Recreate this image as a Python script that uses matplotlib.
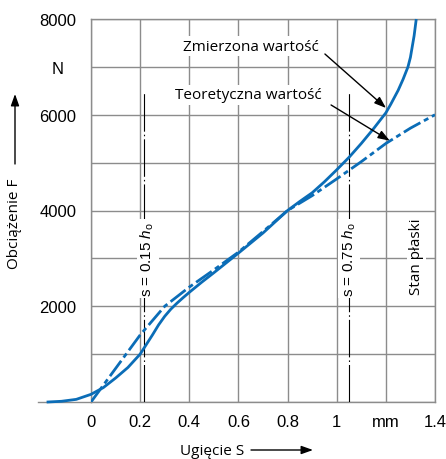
import numpy as np
import matplotlib
matplotlib.use("Agg")
import matplotlib.pyplot as plt

plt.rcParams['font.family'] = ['Liberation Sans', 'DejaVu Sans']
plt.rcParams['mathtext.fontset'] = 'custom'
plt.rcParams['mathtext.rm'] = 'Liberation Sans'
plt.rcParams['mathtext.it'] = 'Liberation Sans:italic'
plt.rcParams['lines.scale_dashes'] = False

# measured (solid) curve: deflection s [mm], load F [N]
s_measured = [-0.175, -0.12, -0.06, 0.0, 0.05, 0.1, 0.15, 0.2, 0.225, 0.25, 0.275,
              0.3, 0.325, 0.35, 0.375, 0.4, 0.45, 0.5, 0.6, 0.7, 0.8, 0.85, 0.9,
              0.95, 1.0, 1.05, 1.1, 1.15, 1.2, 1.22, 1.25, 1.27, 1.29, 1.30,
              1.315, 1.323]
F_measured = [0, 15, 55, 160, 300, 500, 720, 1000, 1200, 1400, 1610,
              1790, 1940, 2065, 2180, 2290, 2500, 2700, 3110, 3530, 4000, 4190, 4370,
              4600, 4850, 5110, 5400, 5710, 6040, 6220, 6510, 6740, 7000, 7200,
              7650, 7970]

# theoretical (dash-dot) curve
s_theory = [0.0, 0.1, 0.2, 0.3, 0.4, 0.5, 0.6, 0.7, 0.8, 0.9, 1.0, 1.1, 1.2, 1.3, 1.4]
F_theory = [0, 700, 1400, 2000, 2400, 2760, 3130, 3560, 4000, 4310, 4660, 5020, 5400, 5720, 6000]

x_ticks = [0, 0.2, 0.4, 0.6, 0.8, 1.0, 1.2, 1.4]
x_labels = ['0', '0.2', '0.4', '0.6', '0.8', '1', 'mm', '1.4']
y_ticks = [0, 1000, 2000, 3000, 4000, 5000, 6000, 7000, 8000]
y_labels = ['', '', '2000', '', '4000', '', '6000', 'N', '8000']

# reference deflections s = 0.15 h0 and s = 0.75 h0
s_015 = 0.216
s_075 = 1.052
F_ref_top = 6450

blue = '#0b6db7'
grey = '#8c8c8c'
label_font = ['Open Sans', 'DejaVu Sans']

fig = plt.figure(figsize=(4.46, 4.60), dpi=100)
ax = fig.add_axes([91 / 446, 57 / 460, 344 / 446, 383 / 460])
ax.set_xlim(0, 1.4)
ax.set_ylim(0, 8000)

ax.set_xticks(x_ticks)
ax.set_xticklabels(x_labels, fontsize=12)
ax.set_yticks(y_ticks)
ax.set_yticklabels(y_labels, fontsize=12)
for lab in ax.get_yticklabels():
    lab.set_ha('center')
ax.tick_params(axis='y', length=0, pad=24)
ax.tick_params(axis='x', length=0, pad=8.5)
ax.grid(True, color=grey, lw=1.0)
for sp in ax.spines.values():
    sp.set_color(grey)
    sp.set_linewidth(1.0)

# baseline extends left of s = 0
ax.plot([-0.216, 0], [0, 0], color=grey, lw=1.0, clip_on=False)

# reference lines
dashdot = (0, (27, 2.2, 1.1, 2.2))
for s_ref in (s_015, s_075):
    ax.plot([s_ref, s_ref], [0, F_ref_top], color='black', lw=0.8,
            linestyle=dashdot, zorder=3)

ax.plot(s_theory, F_theory, color=blue, lw=2.0, linestyle=(0, (13.7, 2.9, 3.6, 2.9)),
        dash_capstyle='butt', zorder=4)
ax.plot(s_measured, F_measured, color=blue, lw=2.0, clip_on=False, zorder=5,
        solid_joinstyle='round')

box = dict(boxstyle='square,pad=0.15', fc='white', ec='none')
ax.text(0.230, 3000, r's = 0.15 $h_\mathrm{o}$', rotation=90, ha='center', va='center',
        fontsize=11, bbox=box, zorder=6)
ax.text(1.050, 3000, r's = 0.75 $h_\mathrm{o}$', rotation=90, ha='center', va='center',
        fontsize=11, bbox=box, zorder=6)
ax.text(1.324, 3050, 'Stan płaski', rotation=90, ha='center', va='center',
        fontsize=11, family=label_font, bbox=box, zorder=6)

ax.text(0.649, 7436, 'Zmierzona wartość', ha='center', va='center',
        fontsize=11, family=label_font, bbox=box, zorder=6)
ax.text(0.639, 6413, 'Teoretyczna wartość', ha='center', va='center',
        fontsize=11, family=label_font, bbox=box, zorder=6)
arrow = dict(arrowstyle='-|>,head_length=0.7,head_width=0.25', color='black', lw=1.0,
             shrinkA=0, shrinkB=0)
ax.annotate('', xy=(1.2006, 6141), xytext=(0.952, 7269), arrowprops=arrow, zorder=7)
ax.annotate('', xy=(1.216, 5458), xytext=(0.977, 6204), arrowprops=arrow, zorder=7)

# axis titles with arrows
fig.text(15 / 446, 236 / 460, 'Obciążenie F', rotation=90, ha='center', va='center',
         fontsize=11, family=label_font)
ax.annotate('', xy=(15, 365), xytext=(15, 295), xycoords='figure pixels',
            textcoords='figure pixels', arrowprops=arrow)
fig.text(180 / 446, 5 / 460, 'Ugięcie S', ha='left', va='baseline',
         fontsize=11, family=label_font)
ax.annotate('', xy=(313, 9), xytext=(251, 9), xycoords='figure pixels',
            textcoords='figure pixels', arrowprops=arrow)

fig.savefig('out.png', dpi=100)
